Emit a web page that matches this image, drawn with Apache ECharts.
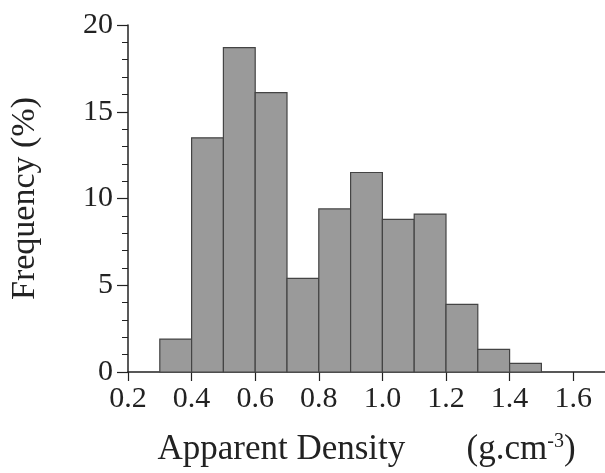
<!DOCTYPE html>
<html>
<head>
<meta charset="utf-8">
<script src="https://cdn.jsdelivr.net/npm/echarts@6/dist/echarts.min.js"></script>
<style>html,body{margin:0;padding:0;background:#fff}#c{width:605px;height:473px}</style>
</head>
<body>
<div id="c"></div>
<script>
var binStarts = [0.3, 0.4, 0.5, 0.6, 0.7, 0.8, 0.9, 1.0, 1.1, 1.2, 1.3, 1.4];
var binWidth = 0.1;
var frequency = [1.9, 13.5, 18.7, 16.1, 5.4, 9.4, 11.5, 8.8, 9.1, 3.9, 1.3, 0.5];
var xTicks = [0.2, 0.4, 0.6, 0.8, 1.0, 1.2, 1.4, 1.6];
var yTicks = [0, 5, 10, 15, 20];

var data = binStarts.map(function (s, i) { return [s, s + binWidth, frequency[i]]; });
var font = 'Liberation Serif';
var chart = echarts.init(document.getElementById('c'));
chart.setOption({
  animation: false,
  grid: { left: 128, right: 0, top: 25, bottom: 101, outerBoundsMode: 'none', containLabel: false },
  xAxis: {
    type: 'value', min: 0.2, max: 1.7, interval: 0.2,
    axisLine: { lineStyle: { color: '#222', width: 1.5 } },
    axisTick: { show: true, length: 9, customValues: xTicks, lineStyle: { color: '#222', width: 1.2 } },
    axisLabel: { customValues: xTicks, margin: 12, fontFamily: font, fontSize: 30, color: '#222',
      formatter: function (v) { return v.toFixed(1); } },
    splitLine: { show: false },
    name: 'Apparent Density       (g.cm{sup|-3})',
    nameLocation: 'middle', nameGap: 60,
    nameTextStyle: { fontFamily: font, fontSize: 35, color: '#222',
      rich: { sup: { fontFamily: font, fontSize: 20, color: '#222', verticalAlign: 'top', padding: [0, 0, 14, 0] } } }
  },
  yAxis: {
    type: 'value', min: 0, max: 20, interval: 5,
    axisLine: { show: true, lineStyle: { color: '#222', width: 1.5 } },
    axisTick: { show: true, length: 11, customValues: yTicks, lineStyle: { color: '#222', width: 1.2 } },
    minorTick: { show: true, splitNumber: 5, length: 6, lineStyle: { color: '#222', width: 1 } },
    axisLabel: { margin: 15, fontFamily: font, fontSize: 30, color: '#222' },
    splitLine: { show: false },
    name: 'Frequency (%)', nameLocation: 'middle', nameGap: 86, nameRotate: 90,
    nameTextStyle: { fontFamily: font, fontSize: 34, color: '#222' }
  },
  series: [{
    type: 'custom',
    data: data,
    encode: { x: [0, 1], y: 2 },
    renderItem: function (params, api) {
      var p0 = api.coord([api.value(0), api.value(2)]);
      var p1 = api.coord([api.value(1), 0]);
      return {
        type: 'rect',
        shape: { x: p0[0], y: p0[1], width: p1[0] - p0[0], height: p1[1] - p0[1] },
        style: { fill: '#9a9a9a', stroke: '#444', lineWidth: 1.2 }
      };
    }
  }]
});
</script>
</body>
</html>
